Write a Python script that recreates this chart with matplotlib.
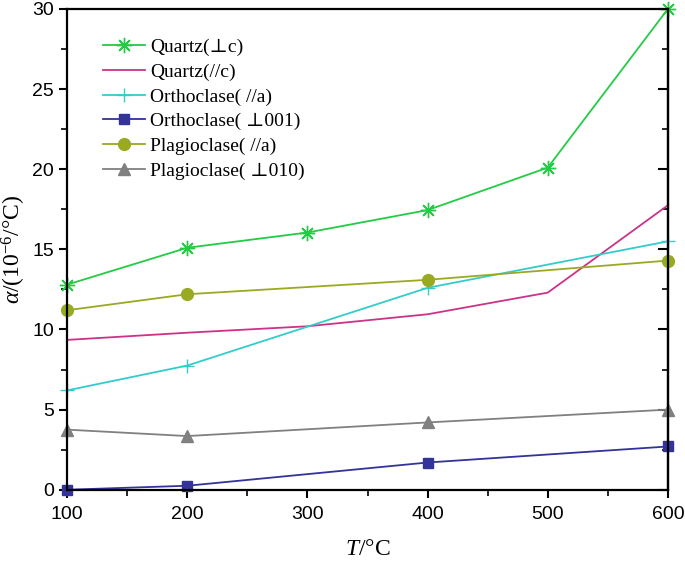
import matplotlib
matplotlib.use("Agg")
import matplotlib.pyplot as plt
from matplotlib.ticker import MultipleLocator

plt.rcParams["mathtext.fontset"] = "custom"
plt.rcParams["mathtext.rm"] = "Liberation Serif"
plt.rcParams["mathtext.it"] = "Liberation Serif:italic"

# Data
x_qc_perp = [100, 200, 300, 400, 500, 600]
qc_perp = [12.8, 15.1, 16.05, 17.45, 20.1, 30.0]
x_qc_par = [100, 200, 300, 400, 500, 600]
qc_par = [9.35, 9.8, 10.2, 10.95, 12.3, 17.75]
x_or_a = [100, 200, 400, 600]
or_a = [6.2, 7.75, 12.6, 15.5]
x_or_001 = [100, 200, 400, 600]
or_001 = [0.0, 0.25, 1.7, 2.7]
x_pl_a = [100, 200, 400, 600]
pl_a = [11.2, 12.2, 13.1, 14.3]
x_pl_010 = [100, 200, 400, 600]
pl_010 = [3.75, 3.35, 4.2, 5.0]

labels = ["Quartz(\u22a5c)", "Quartz(//c)", "Orthoclase( //a)",
          "Orthoclase( \u22a5001)", "Plagioclase( //a)", "Plagioclase( \u22a5010)"]

fig = plt.figure(figsize=(6.85, 5.61), dpi=100)
ax = fig.add_axes([0.098, 0.127, 0.877, 0.857])

ax.plot(x_qc_perp, qc_perp, color="#22cc44", lw=1.3, marker=(8, 2, 0), ms=11,
        mew=1.0, label=labels[0], clip_on=False)
ax.plot(x_qc_par, qc_par, color="#cc3388", lw=1.3, label=labels[1], clip_on=False)
ax.plot(x_or_a, or_a, color="#33cccc", lw=1.3, marker="+", ms=10, mew=1.0,
        label=labels[2], clip_on=False)
ax.plot(x_or_001, or_001, color="#333399", lw=1.3, marker="s", ms=7.5,
        label=labels[3], clip_on=False)
ax.plot(x_pl_a, pl_a, color="#99aa22", lw=1.3, marker="o", ms=8.5,
        label=labels[4], clip_on=False)
ax.plot(x_pl_010, pl_010, color="#808080", lw=1.3, marker="^", ms=8.5,
        label=labels[5], clip_on=False)

ax.set_xlim(100, 600)
ax.set_ylim(0, 30)
ax.xaxis.set_major_locator(MultipleLocator(100))
ax.xaxis.set_minor_locator(MultipleLocator(50))
ax.yaxis.set_major_locator(MultipleLocator(5))
ax.yaxis.set_minor_locator(MultipleLocator(2.5))
for s in ax.spines.values():
    s.set_linewidth(1.6)
ax.tick_params(which="major", direction="out", length=6, width=1.5,
               labelsize=14)
ax.tick_params(axis="x", which="major", pad=6)
ax.tick_params(which="minor", direction="out", length=4, width=1.2)
for lab in ax.get_xticklabels() + ax.get_yticklabels():
    lab.set_family("Liberation Sans")

sec = ax.secondary_yaxis("right")
sec.yaxis.set_major_locator(MultipleLocator(5))
sec.yaxis.set_minor_locator(MultipleLocator(2.5))
sec.tick_params(which="major", direction="in", length=7, width=1.5, labelright=False)
sec.tick_params(which="minor", direction="in", length=4, width=1.2)
sec.spines["right"].set_linewidth(1.6)

ax.set_xlabel("$T$/\u00b0C", fontsize=17, family="Liberation Serif", labelpad=11)
ax.set_ylabel("$\\alpha$/(10$^{-6}$/\u00b0C)", fontsize=17, family="Liberation Serif", labelpad=3)

leg = ax.legend(loc="upper left", bbox_to_anchor=(0.03, 0.975), frameon=False,
                prop={"family": ["Liberation Serif", "DejaVu Serif"], "size": 14},
                handlelength=2.2, handletextpad=0.25, labelspacing=0.36)

fig.savefig("out.png", dpi=100)
